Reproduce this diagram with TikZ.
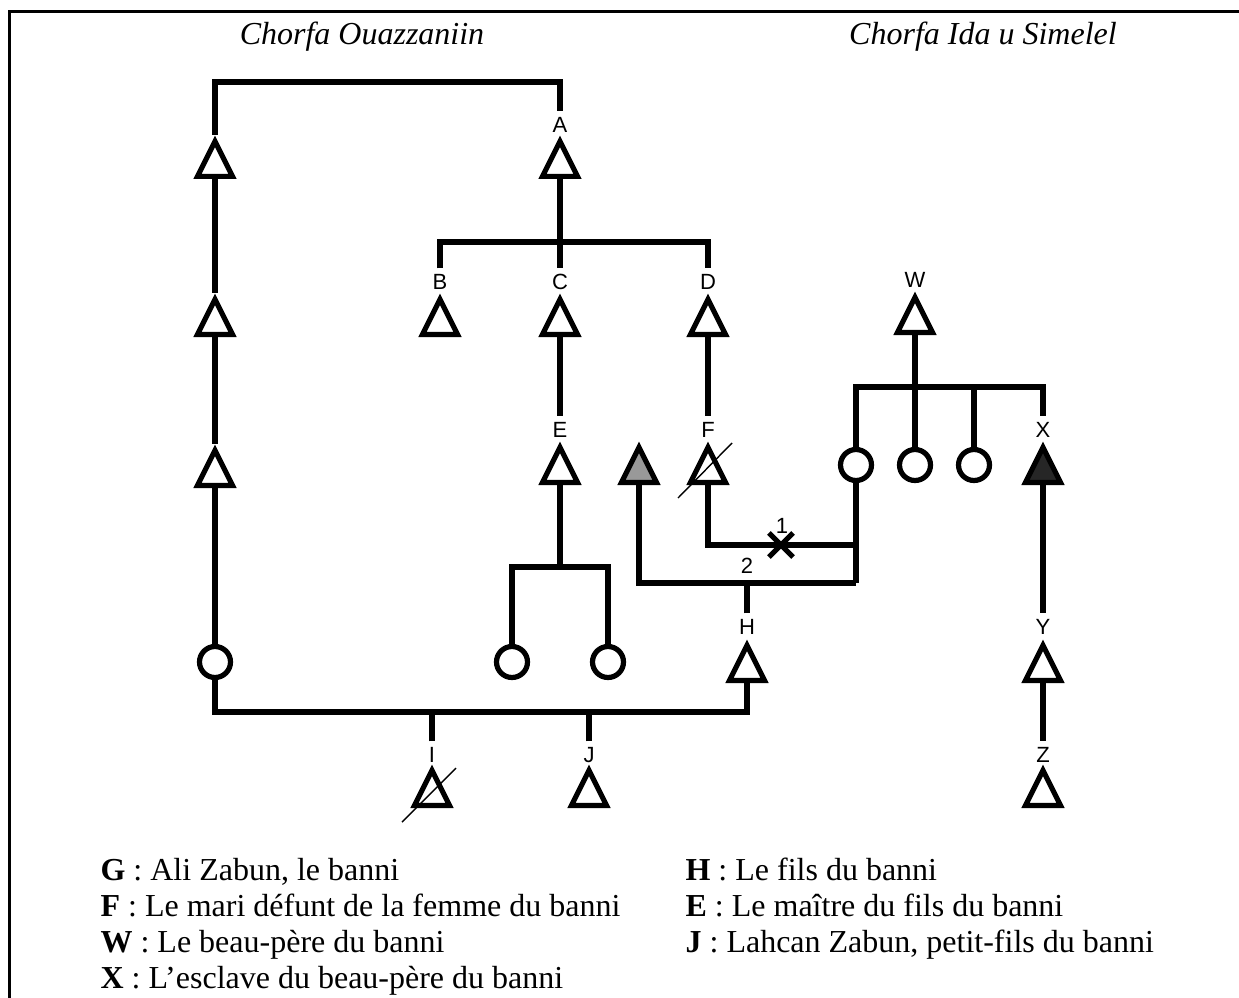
\documentclass[tikz,border=0pt]{standalone}
\usepackage{fontspec}
\setmainfont{Liberation Serif}
\newfontfamily\labfont{Liberation Sans}
\usetikzlibrary{shapes.geometric,shapes.misc}
\tikzset{
  tri/.style={draw,fill=white,isosceles triangle,isosceles triangle stretches,shape border rotate=90,minimum width=35pt,minimum height=35pt,inner sep=0pt,anchor=south},
  circ/.style={draw,fill=white,circle,minimum size=31pt,inner sep=0pt},
  lab/.style={font=\labfont\fontsize{22}{22}\selectfont,inner sep=1pt,outer sep=5pt},
  title/.style={font=\fontsize{32}{36}\selectfont\itshape},
  leg/.style={font=\fontsize{32}{36}\selectfont,anchor=base west,inner sep=0pt},
  slash/.style={line width=1.4pt}
}
\begin{document}
\begin{tikzpicture}[line cap=butt,line join=miter,line width=5.2pt,x=1pt,y=-1pt]
	\useasboundingbox (0,0) rectangle (1239,998);
	\draw [line width=3pt] (9,1000) -- (9,12) -- (1241,12);
	\node[title] (ouaz) at (362,37) {Chorfa Ouazzaniin};
	\node[title] (ida) at (983,37) {Chorfa Ida u Simelel};
	% left line
	\node[tri] (t1) at (215,179) {};
	\node[tri] (t2) at (215,337) {};
	\node[tri] (t3) at (215,488) {};
	\node[circ] (cG) at (215,662) {};
	% A and sons
	\node[lab] (lA) at (560,125) {A};
	\node[tri] (tA) at (560,179) {};
	\node[lab] (lB) at (440,282) {B};
	\node[tri] (tB) at (440,337) {};
	\node[lab] (lC) at (560,282) {C};
	\node[tri] (tC) at (560,337) {};
	\node[lab] (lD) at (708,282) {D};
	\node[tri] (tD) at (708,337) {};
	\node[lab] (lE) at (560,430) {E};
	\node[tri] (tE) at (560,485) {};
	\node[lab] (lF) at (708,430) {F};
	\node[tri] (tF) at (708,485) {};
	\node[tri,fill=black!40] (tG) at (639,485) {};
	\node[circ] (cE1) at (512,662) {};
	\node[circ] (cE2) at (608,662) {};
	% W and daughters
	\node[lab] (lW) at (915,280) {W};
	\node[tri] (tW) at (915,335) {};
	\node[circ] (cW1) at (856,465) {};
	\node[circ] (cW2) at (915,465) {};
	\node[circ] (cW3) at (974,465) {};
	\node[lab] (lX) at (1043,430) {X};
	\node[tri,fill=black!85] (tX) at (1043,485) {};
	\node[lab] (lY) at (1043,627) {Y};
	\node[tri] (tY) at (1043,683) {};
	\node[lab] (lZ) at (1043,755) {Z};
	\node[tri] (tZ) at (1043,808) {};
	% H and sons
	\node[lab] (lH) at (747,627) {H};
	\node[tri] (tH) at (747,683) {};
	\node[lab] (lI) at (432,755) {I};
	\node[tri] (tI) at (432,808) {};
	\node[lab] (lJ) at (589,755) {J};
	\node[tri] (tJ) at (589,808) {};
	\coordinate (bA) at (388,82);
	\coordinate (bB) at (560,242);
	\coordinate (bE) at (560,567);
	\coordinate (bW) at (915,387);
	\coordinate (bH) at (480,712);
	\coordinate (m1) at (856,545);
	\coordinate (m2) at (856,583);
	\draw (t1) |- (bA) -| (lA);
	\draw (t1) -- (t2) -- (t3) -- (cG);
	\draw (tA) -- (lC);
	\draw (lB) |- (bB) -| (lD);
	\draw (tC) -- (lE);
	\draw (tD) -- (lF);
	\draw (tE) -- (bE);
	\draw (cE1) |- (bE) -| (cE2);
	\draw (tW) -- (cW2);
	\draw (cW1) |- (bW) -| (lX);
	\draw (cW3) -- (cW3 |- bW);
	\draw (tX) -- (lY);
	\draw (tY) -- (lZ);
	\draw (cW1) -- (m2);
	\draw (tF) |- (m1);
	\draw (tG) |- (m2);
	\draw (lH) -- (lH |- m2);
	\draw (cG) |- (bH) -| (tH);
	\draw (lI) -- (lI |- bH);
	\draw (lJ) -- (lJ |- bH);
	\node[draw,cross out,minimum size=19pt,inner sep=0pt] (kx) at (781,545) {};
	\node[lab] (n1) at (782,526) {1};
	\node[lab] (n2) at (747,566) {2};
	\draw[slash] (tF.south) ++(-30,13) -- ++(54,-55);
	\draw[slash] (tI.south) ++(-30,14) -- ++(54,-54);
	% legend
	\node[leg] (gG) at (98,880) {\textbf{G} : Ali Zabun, le banni};
	\node[leg] (gF) at (98,916) {\textbf{F} : Le mari défunt de la femme du banni};
	\node[leg] (gW) at (98,952) {\textbf{W} : Le beau-père du banni};
	\node[leg] (gX) at (98,988) {\textbf{X} : L’esclave du beau-père du banni};
	\node[leg] (gH) at (683,880) {\textbf{H} : Le fils du banni};
	\node[leg] (gE) at (683,916) {\textbf{E} : Le maître du fils du banni};
	\node[leg] (gJ) at (683,952) {\textbf{J} : Lahcan Zabun, petit-fils du banni};
\end{tikzpicture}
\end{document}
